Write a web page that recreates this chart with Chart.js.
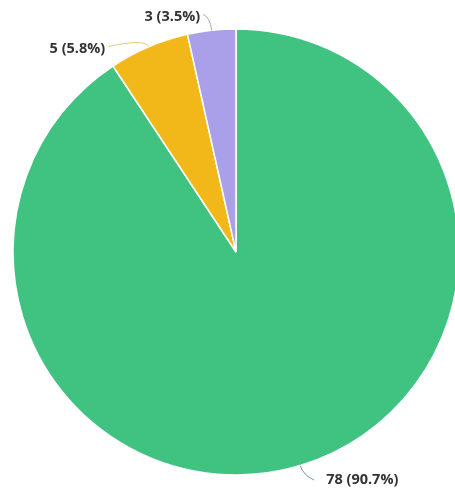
<!DOCTYPE html>
<html>
<head>
<meta charset="utf-8">
<script src="https://cdn.jsdelivr.net/npm/chart.js@4.4.0/dist/chart.umd.min.js"></script>
<style>
  html, body { margin: 0; padding: 0; background: #fff; overflow: hidden; }
  #wrap { width: 455px; height: 489px; position: relative; }
</style>
</head>
<body>
<div id="wrap"><canvas id="pieChart" width="455" height="489"></canvas></div>
<script>
// data
var labels = ['A', 'B', 'C'];
var values = [78, 5, 3];
var colors = ['#40c380', '#f2b81a', '#aaa0ea'];
var lineColors = ['#7a9a88', '#e6c878', '#a8a4c4'];

// leader line shape per slice: radial length, then end offset (dx, dy) from the elbow
var leaders = [
  { radial: 10, dx: 11, dy: 5 },
  { radial: 9, dx: -37, dy: 8 },
  { radial: 13, dx: -7, dy: -3 }
];

var total = values.reduce(function (a, b) { return a + b; }, 0);

var labelPlugin = {
  id: 'pieLabels',
  afterDatasetsDraw: function (chart) {
    var ctx = chart.ctx;
    var meta = chart.getDatasetMeta(0);
    ctx.save();
    ctx.font = 'bold 14.5px "Open Sans", sans-serif';
    ctx.textBaseline = 'middle';
    meta.data.forEach(function (arc, i) {
      var mid = (arc.startAngle + arc.endAngle) / 2;
      var r = arc.outerRadius;
      var px = arc.x + Math.cos(mid) * r;
      var py = arc.y + Math.sin(mid) * r;
      var ex = arc.x + Math.cos(mid) * (r + leaders[i].radial);
      var ey = arc.y + Math.sin(mid) * (r + leaders[i].radial);
      var tx = ex + leaders[i].dx;
      var ty = ey + leaders[i].dy;

      ctx.strokeStyle = lineColors[i];
      ctx.lineWidth = 1;
      ctx.beginPath();
      ctx.moveTo(px, py);
      ctx.quadraticCurveTo(ex, ey, tx, ty);
      ctx.stroke();

      var pct = (values[i] / total * 100).toFixed(1);
      var text = values[i] + ' (' + pct + '%)';
      ctx.fillStyle = '#333';
      if (leaders[i].dx >= 0) {
        ctx.textAlign = 'left';
        ctx.fillText(text, tx + 12, ty);
      } else {
        ctx.textAlign = 'right';
        ctx.fillText(text, tx - 3, ty + 2);
      }
    });
    ctx.restore();
  }
};

new Chart(document.getElementById('pieChart'), {
  type: 'pie',
  data: {
    labels: labels,
    datasets: [{
      data: values,
      backgroundColor: colors,
      borderColor: '#ffffff',
      borderWidth: 1.5
    }]
  },
  options: {
    responsive: false,
    animation: false,
    radius: 223,
    layout: { padding: { top: 28, bottom: 13, left: 17, right: 0 } },
    plugins: {
      legend: { display: false },
      tooltip: { enabled: false }
    }
  },
  plugins: [labelPlugin]
});
</script>
</body>
</html>
